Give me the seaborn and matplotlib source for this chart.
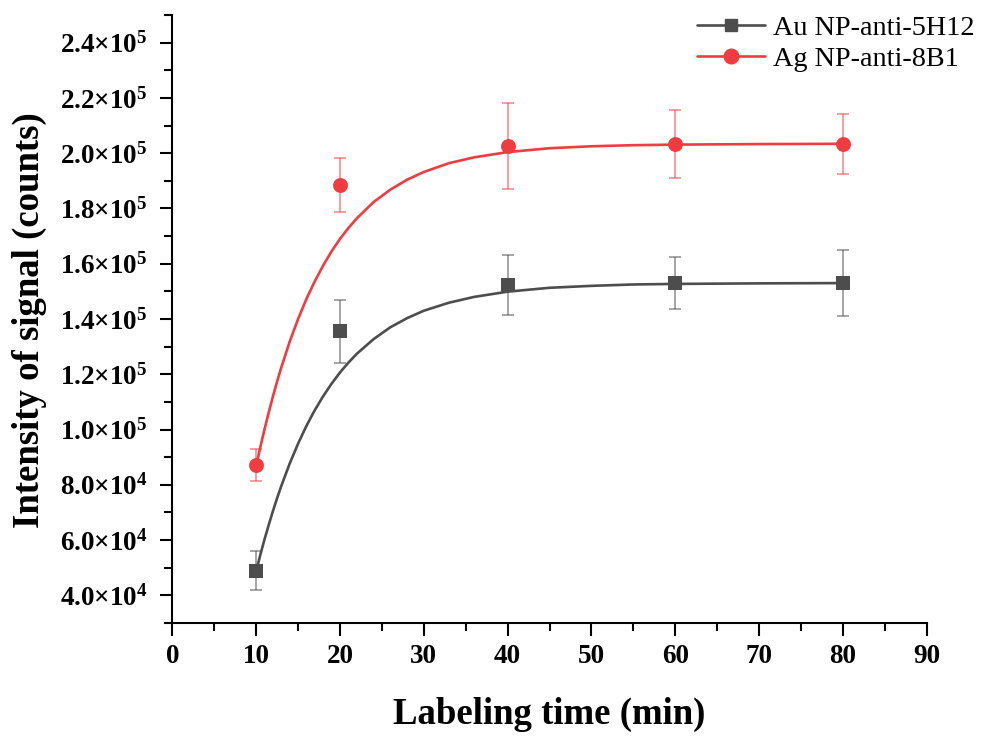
import matplotlib
matplotlib.use("Agg")
import matplotlib.pyplot as plt
from matplotlib.lines import Line2D
from matplotlib.ticker import MultipleLocator, FixedLocator
import seaborn as sns
import pandas as pd

# ---- data ----
time_points = [10, 20, 40, 60, 80]
au_values = [49000, 135500, 152300, 153000, 153000]
au_errors = [7000, 11500, 10700, 9300, 11900]
ag_values = [87200, 188400, 202700, 203500, 203300]
ag_errors = [5900, 9800, 15500, 12300, 10900]

# fitted curves
fit_x = [10, 10.5, 11, 11.5, 12, 12.5, 13, 14, 15, 16, 17, 18, 19, 20, 21, 22,
         24, 26, 28, 30, 33, 36, 40, 45, 50, 55, 60, 70, 80]
au_fit = [48800, 54700, 60300, 65500, 70500, 75200, 79600, 87700, 94900,
          101350, 107050, 112100, 116600, 120650, 124200, 127400, 132700,
          137000, 140300, 143000, 145900, 148000, 149900, 151300, 152000,
          152500, 152700, 152900, 153000]
ag_fit = [86800, 93700, 100150, 106200, 112000, 117400, 122500, 131800,
          140000, 147300, 153700, 159400, 164500, 169000, 172900, 176400,
          182300, 186800, 190400, 193200, 196400, 198500, 200400, 201800,
          202500, 202900, 203100, 203300, 203400]

series_names = ["Au NP-anti-5H12", "Ag NP-anti-8B1"]
x_ticks = [0, 10, 20, 30, 40, 50, 60, 70, 80, 90]
y_ticks = [40000, 60000, 80000, 100000, 120000, 140000, 160000, 180000,
           200000, 220000, 240000]
y_tick_labels = ["4.0×10$^{\\mathbf{4}}$", "6.0×10$^{\\mathbf{4}}$",
                 "8.0×10$^{\\mathbf{4}}$", "1.0×10$^{\\mathbf{5}}$",
                 "1.2×10$^{\\mathbf{5}}$", "1.4×10$^{\\mathbf{5}}$",
                 "1.6×10$^{\\mathbf{5}}$", "1.8×10$^{\\mathbf{5}}$",
                 "2.0×10$^{\\mathbf{5}}$", "2.2×10$^{\\mathbf{5}}$",
                 "2.4×10$^{\\mathbf{5}}$"]

# ---- style ----
sns.set_theme(style="ticks")
plt.rcParams["font.family"] = ["Liberation Serif", "DejaVu Serif"]
plt.rcParams["mathtext.fontset"] = "custom"
plt.rcParams["mathtext.rm"] = "Liberation Serif:bold"
plt.rcParams["mathtext.bf"] = "Liberation Serif:bold"
plt.rcParams["mathtext.it"] = "Liberation Serif:italic"
plt.rcParams["text.color"] = "black"
plt.rcParams["axes.labelcolor"] = "black"

au_color = "#4d4d4d"
ag_color = "#f03c41"

fig = plt.figure(figsize=(9.82, 7.36), dpi=100)
ax = fig.add_axes([0.1755, 0.1535, 0.7682, 0.8261])

fit_df = pd.DataFrame({"x": fit_x + fit_x,
                       "y": au_fit + ag_fit,
                       "series": [series_names[0]] * len(fit_x) + [series_names[1]] * len(fit_x)})
pts_df = pd.DataFrame({"x": time_points + time_points,
                       "y": au_values + ag_values,
                       "series": [series_names[0]] * 5 + [series_names[1]] * 5})
palette = {series_names[0]: au_color, series_names[1]: ag_color}

# error bars
ax.errorbar(time_points, au_values, yerr=au_errors, fmt="none", ecolor=au_color,
            alpha=0.5, elinewidth=1.4, capsize=4.5, capthick=1.4, zorder=2)
ax.errorbar(time_points, ag_values, yerr=ag_errors, fmt="none", ecolor=ag_color,
            alpha=0.5, elinewidth=1.4, capsize=4.5, capthick=1.4, zorder=2)

# fit curves
sns.lineplot(data=fit_df, x="x", y="y", hue="series", palette=palette,
             linewidth=1.9, legend=False, ax=ax, zorder=3)

# markers
sns.scatterplot(data=pts_df[pts_df.series == series_names[0]], x="x", y="y",
                color=au_color, marker="s", s=88, linewidth=0, legend=False,
                ax=ax, zorder=4)
sns.scatterplot(data=pts_df[pts_df.series == series_names[1]], x="x", y="y",
                color=ag_color, marker="o", s=115, linewidth=0, legend=False,
                ax=ax, zorder=4)

# axes
ax.set_xlim(0, 90)
ax.set_ylim(30000, 250000)
ax.xaxis.set_major_locator(FixedLocator(x_ticks))
ax.xaxis.set_minor_locator(MultipleLocator(5))
ax.set_xticklabels([str(t) for t in x_ticks])
ax.yaxis.set_major_locator(FixedLocator(y_ticks))
ax.yaxis.set_minor_locator(MultipleLocator(10000))
ax.set_yticklabels(y_tick_labels)

for s in ["top", "right"]:
    ax.spines[s].set_visible(False)
for s in ["left", "bottom"]:
    ax.spines[s].set_linewidth(1.5)
    ax.spines[s].set_color("black")

ax.tick_params(axis="both", which="major", direction="out", length=9, width=1.5,
               color="black", labelsize=19.5, labelcolor="black")
ax.tick_params(axis="both", which="minor", direction="out", length=5.5, width=1.5,
               color="black")
ax.tick_params(axis="y", which="major", pad=9)
ax.tick_params(axis="x", which="major", pad=6)
for lab in ax.get_xticklabels() + ax.get_yticklabels():
    lab.set_fontweight("bold")

ax.set_xlabel("Labeling time (min)", fontsize=26.5, fontweight="bold", color="black")
ax.set_ylabel("Intensity of signal (counts)", fontsize=26.5, fontweight="bold", color="black")
ax.xaxis.set_label_coords(0.4993, -0.121)
ax.yaxis.set_label_coords(-0.166, 0.4975)

handles = [Line2D([], [], color=au_color, marker="s", markersize=9, linewidth=1.9),
           Line2D([], [], color=ag_color, marker="o", markersize=10.5, linewidth=1.9)]
leg = ax.legend(handles, series_names, loc="upper right",
                bbox_to_anchor=(1.004, 0.995), bbox_transform=fig.transFigure,
                frameon=False, fontsize=20.3, handlelength=2.4,
                handletextpad=0.3, labelspacing=0.2, borderaxespad=0)
for t in leg.get_texts():
    t.set_color("black")

fig.savefig("out.png", dpi=100)
